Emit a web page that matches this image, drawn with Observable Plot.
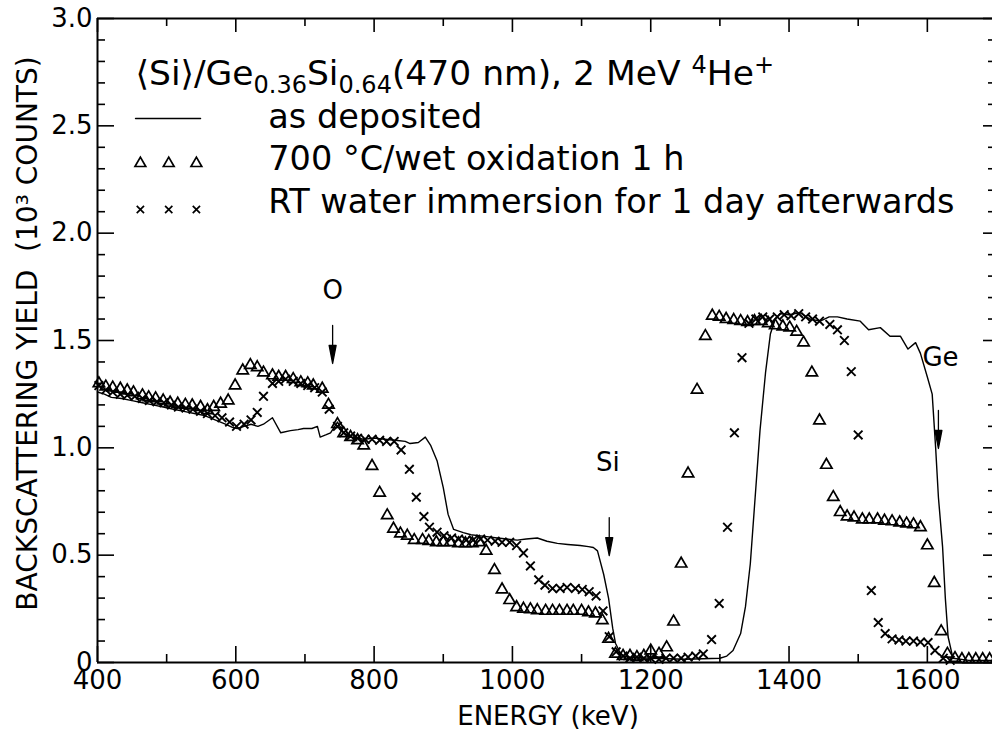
<!DOCTYPE html>
<html><head><meta charset="utf-8">
<script src="https://cdn.jsdelivr.net/npm/d3@7"></script>
<script src="https://cdn.jsdelivr.net/npm/@observablehq/plot@0.6"></script>
<style>
body{margin:0;background:#fff;}
#chart > svg{font-family:"DejaVu Sans",sans-serif;}
</style></head><body><div id="chart"></div>
<script>
// ---- data: [energy keV, yield (10^3 counts)] ----
const asDeposited = [
[400,1.26],[410,1.25],[420,1.235],[435,1.23],[450,1.22],[465,1.21],[480,1.20],[495,1.19],[510,1.18],[525,1.17],
[540,1.16],[555,1.15],[570,1.13],[585,1.11],[595,1.095],[602,1.09],[612,1.10],[622,1.11],[632,1.10],[640,1.11],
[653,1.14],[665,1.07],[679,1.08],[690,1.085],[698,1.09],[710,1.09],[718,1.10],[722,1.05],[730,1.06],[737,1.07],
[747,1.12],[756,1.07],[766,1.05],[776,1.045],[785,1.04],[800,1.045],[815,1.04],[834,1.034],[845,1.03],[852,1.02],
[864,1.025],[874,1.05],[882,1.01],[891,0.94],[900,0.815],[907,0.69],[915,0.62],[929,0.605],[940,0.595],[954,0.59],
[966,0.585],[978,0.58],[992,0.575],[1007,0.57],[1020,0.575],[1036,0.58],[1050,0.565],[1065,0.555],[1080,0.55],[1098,0.545],
[1110,0.54],[1117,0.536],[1123,0.52],[1132,0.41],[1139,0.30],[1145,0.16],[1149,0.09],[1155,0.05],[1160,0.03],[1170,0.025],
[1200,0.02],[1250,0.015],[1300,0.02],[1310,0.03],[1319,0.056],[1330,0.135],[1337,0.26],[1344,0.46],[1351,0.77],[1358,1.08],
[1366,1.35],[1373,1.53],[1380,1.60],[1387,1.626],[1400,1.62],[1416,1.63],[1430,1.60],[1445,1.59],[1458,1.61],[1470,1.61],
[1484,1.60],[1503,1.59],[1515,1.55],[1532,1.56],[1546,1.52],[1561,1.52],[1572,1.46],[1583,1.49],[1590,1.44],[1600,1.33],
[1607,1.25],[1612,1.0],[1616,0.77],[1622,0.54],[1626,0.30],[1630,0.12],[1637,0.02],[1660,0.01],[1700,0.01]
];
const wetOxidation = [
[402,1.30],[412,1.285],[422,1.28],[433,1.275],[443,1.267],[452,1.258],[465,1.244],[474,1.235],[484,1.23],[495,1.22],
[505,1.21],[516,1.205],[527,1.20],[537,1.197],[549,1.19],[559,1.175],[568,1.19],[578,1.205],[589,1.22],[599,1.29],
[610,1.36],[621,1.385],[631,1.375],[640,1.35],[653,1.337],[662,1.33],[672,1.33],[683,1.32],[694,1.305],[704,1.30],
[712,1.29],[725,1.275],[734,1.20],[747,1.11],[756,1.067],[766,1.05],[776,1.035],[785,1.01],[797,0.915],[808,0.79],
[819,0.685],[828,0.623],[838,0.60],[848,0.59],[858,0.57],[870,0.57],[879,0.565],[890,0.56],[900,0.56],[910,0.56],
[922,0.555],[932,0.555],[942,0.555],[952,0.56],[962,0.52],[974,0.43],[985,0.34],[996,0.29],[1006,0.257],[1016,0.25],
[1026,0.247],[1036,0.243],[1048,0.24],[1058,0.24],[1068,0.24],[1079,0.24],[1088,0.24],[1100,0.24],[1110,0.233],[1120,0.228],
[1130,0.196],[1139,0.11],[1149,0.04],[1160,0.03],[1170,0.03],[1180,0.025],[1190,0.03],[1200,0.055],[1212,0.04],[1223,0.07],
[1233,0.19],[1244,0.46],[1254,0.88],[1267,1.27],[1279,1.52],[1289,1.615],[1299,1.61],[1309,1.60],[1320,1.595],[1330,1.59],
[1340,1.585],[1350,1.59],[1360,1.59],[1370,1.58],[1380,1.57],[1391,1.565],[1401,1.56],[1411,1.54],[1421,1.49],[1433,1.35],
[1444,1.127],[1454,0.92],[1464,0.77],[1474,0.70],[1484,0.68],[1494,0.675],[1506,0.666],[1516,0.666],[1528,0.666],[1538,0.66],
[1549,0.657],[1560,0.652],[1570,0.647],[1580,0.643],[1590,0.63],[1600,0.545],[1610,0.37],[1620,0.145],[1629,0.04],[1640,0.02],
[1650,0.015],[1660,0.015],[1670,0.015],[1680,0.015],[1690,0.015],[1700,0.015]
];
const waterImmersion = [
[402,1.29],[412,1.27],[422,1.26],[433,1.25],[443,1.245],[454,1.24],[465,1.23],[475,1.22],[486,1.215],[496,1.21],
[507,1.20],[517,1.19],[528,1.185],[538,1.18],[549,1.17],[559,1.16],[570,1.15],[580,1.14],[591,1.12],[601,1.10],
[612,1.11],[622,1.13],[631,1.165],[640,1.24],[653,1.30],[662,1.31],[672,1.32],[683,1.31],[694,1.30],[704,1.29],
[714,1.28],[725,1.26],[735,1.18],[747,1.10],[756,1.07],[766,1.055],[776,1.045],[787,1.04],[797,1.04],[808,1.035],
[818,1.03],[829,1.03],[839,0.99],[851,0.90],[861,0.77],[872,0.68],[880,0.63],[891,0.607],[901,0.59],[912,0.58],
[922,0.575],[933,0.57],[943,0.57],[954,0.575],[964,0.57],[975,0.565],[985,0.56],[996,0.56],[1006,0.545],[1016,0.51],
[1026,0.45],[1038,0.385],[1047,0.36],[1058,0.345],[1069,0.345],[1079,0.35],[1091,0.345],[1101,0.34],[1111,0.33],[1121,0.31],
[1131,0.24],[1140,0.12],[1150,0.05],[1160,0.03],[1170,0.02],[1180,0.025],[1190,0.02],[1200,0.02],[1212,0.015],[1222,0.02],
[1233,0.02],[1244,0.02],[1254,0.025],[1265,0.03],[1276,0.04],[1288,0.107],[1299,0.275],[1311,0.63],[1321,1.07],[1332,1.42],
[1342,1.58],[1352,1.60],[1362,1.61],[1372,1.60],[1383,1.61],[1393,1.62],[1403,1.615],[1414,1.625],[1424,1.61],[1434,1.60],
[1444,1.59],[1459,1.575],[1470,1.55],[1480,1.50],[1490,1.355],[1500,1.06],[1519,0.335],[1529,0.186],[1539,0.135],[1549,0.11],
[1559,0.105],[1569,0.10],[1580,0.10],[1590,0.095],[1601,0.093],[1611,0.056],[1623,0.02],[1633,0.01]
];

// ---- ticks & labels ----
const xMajorTicks = [400, 600, 800, 1000, 1200, 1400, 1600];
const xMinorTicks = [500, 700, 900, 1100, 1300, 1500];
const yMajorTicks = [0, 0.5, 1.0, 1.5, 2.0, 2.5, 3.0];
const yTickLabels = ["0", "0.5", "1.0", "1.5", "2.0", "2.5", "3.0"];
const yMinorTicks = d3.range(1, 30).map(i => i / 10).filter(v => Math.abs(v * 2 - Math.round(v * 2)) > 1e-6);

// ---- legend & annotations ----
const titleText = "TITLE";
const legendLabels = ["as deposited", "700 °C/wet oxidation 1 h", "RT water immersion for 1 day afterwards"];
const legendTextRows = [2.492, 2.292, 2.096];
const legendSymbolX = [462, 503, 543];
const legendLine = [[455, 2.534], [549, 2.534]];
const edgeLabels = [
  {name: "O", energy: 740, y: 1.733, arrowTip: 1.393},
  {name: "Si", energy: 1138, y: 0.932, arrowTip: 0.498, arrowE: 1140},
  {name: "Ge", energy: 1619, y: 1.42, arrowTip: 0.997, arrowE: 1616}
];

const rows = a => a.map(([energy, counts]) => ({energy, counts}));

const arrowShape = {draw(ctx, l) {
  const h = 18, w = 3.5;
  ctx.moveTo(0, 0); ctx.lineTo(0, -l + h);
  ctx.moveTo(-w, -l + h); ctx.lineTo(0, -l); ctx.lineTo(w, -l + h); ctx.closePath();
}};

// frame geometry
const xDom = [400, 1700], yDom = [0, 3];
const xRange = [97, 996], yRange = [662, 18];
const pxX = (xDom[1] - xDom[0]) / (xRange[1] - xRange[0]);   // keV per pixel
const pxY = (yDom[1] - yDom[0]) / (yRange[0] - yRange[1]);   // units per pixel
const tk = {stroke: "black", strokeWidth: 1.6};

const plot = Plot.plot({
  width: 992,
  height: 733,
  marginLeft: 97,
  marginRight: 0,
  marginTop: 18,
  marginBottom: 71,
  style: {fontFamily: "DejaVu Sans, sans-serif", fontSize: "26px", color: "black", background: "white"},
  x: {domain: xDom, range: xRange},
  y: {domain: yDom, range: yRange},
  marks: [
    // axes labels
    Plot.axisX({ticks: xMajorTicks, tickSize: 0, tickPadding: 8, label: null, fontSize: 26, tickFormat: d => String(d)}),
    Plot.axisY({ticks: yMajorTicks, tickSize: 0, tickPadding: 5, label: null, fontSize: 26,
      tickFormat: d => yTickLabels[yMajorTicks.indexOf(d)]}),
    Plot.text(["ENERGY (keV)"], {frameAnchor: "bottom", textAnchor: "middle", dx: 3, dy: 62, lineAnchor: "bottom", fontSize: 26}),
    Plot.text(["BACKSCATTERING YIELD\u00a0\u00a0(10³ COUNTS)"], {frameAnchor: "left", textAnchor: "middle", dx: -69, dy: -7, rotate: -90, lineAnchor: "middle", fontSize: 28}),
    // data
    Plot.line(rows(asDeposited), {x: "energy", y: "counts", stroke: "black", strokeWidth: 1.4}),
    Plot.dot(rows(wetOxidation), {x: "energy", y: "counts", symbol: "triangle", r: 4.2, fill: "none", stroke: "black", strokeWidth: 1.7}),
    Plot.dot(rows(waterImmersion), {x: "energy", y: "counts", symbol: "times", r: 4, fill: "none", stroke: "black", strokeWidth: 1.9}),
    // legend
    Plot.text([titleText], {x: 455, y: 2.688, textAnchor: "start", lineAnchor: "bottom", fontSize: 34.5}),
    Plot.line(legendLine, {x: d => d[0], y: d => d[1], stroke: "black", strokeWidth: 1.4}),
    Plot.dot(legendSymbolX, {x: d => d, y: 2.325, symbol: "triangle", r: 4, fill: "none", stroke: "black", strokeWidth: 1.7}),
    Plot.dot(legendSymbolX, {x: d => d, y: 2.11, symbol: "times", r: 3.4, fill: "none", stroke: "black", strokeWidth: 1.7}),
    Plot.text(legendLabels, {x: 647, y: (d, i) => legendTextRows[i], textAnchor: "start", lineAnchor: "bottom", fontSize: 33.5}),
    // edge annotations
    Plot.text(edgeLabels, {x: "energy", y: "y", text: "name", lineAnchor: "middle", fontSize: 26}),
    Plot.vector(edgeLabels, {x: d => d.arrowE ?? d.energy, y: "arrowTip", length: 38, rotate: 180, anchor: "end",
      shape: arrowShape, stroke: "black", fill: "black", strokeWidth: 1.3}),
    // frame
    Plot.ruleY([0, 3], {stroke: "black", strokeWidth: 2}),
    Plot.ruleX([400, 1700], {stroke: "black", strokeWidth: 2}),
    // ticks (inward), drawn last
    Plot.ruleX(xMajorTicks, {...tk, y1: 0, y2: 16 * pxY}),
    Plot.ruleX(xMinorTicks, {...tk, y1: 0, y2: 8 * pxY}),
    Plot.ruleX(xMajorTicks, {...tk, y1: 3, y2: 3 - 14 * pxY}),
    Plot.ruleX(xMinorTicks, {...tk, y1: 3, y2: 3 - 8 * pxY}),
    Plot.ruleY(yMajorTicks, {...tk, x1: 400, x2: 400 + 17 * pxX}),
    Plot.ruleY(yMinorTicks, {...tk, x1: 400, x2: 400 + 8 * pxX}),
    Plot.ruleY(yMajorTicks, {...tk, x1: 1700 - 13 * pxX, x2: 1700}),
    Plot.ruleY(yMinorTicks, {...tk, x1: 1700 - 8 * pxX, x2: 1700})
  ]
});

// rich text for the title (sub/superscripts)
d3.select(plot).selectAll("text").filter(function() { return this.textContent === "TITLE"; }).each(function() {
  const t = d3.select(this);
  t.text(null);
  const parts = [
    ["\u27E8Si\u27E9/Ge", null, 0],
    ["0.36", 24, 8],
    ["Si", null, -8],
    ["0.64", 24, 8],
    ["(470 nm), 2 MeV ", null, -8],
    ["4", 24, -12],
    ["He", null, 12],
    ["+", 24, -12]
  ];
  for (const [s, fs, dy] of parts) {
    const ts = t.append("tspan").text(s);
    if (fs) ts.attr("font-size", fs);
    if (dy) ts.attr("dy", dy);
  }
});

document.getElementById("chart").append(plot);
</script>
</body></html>
